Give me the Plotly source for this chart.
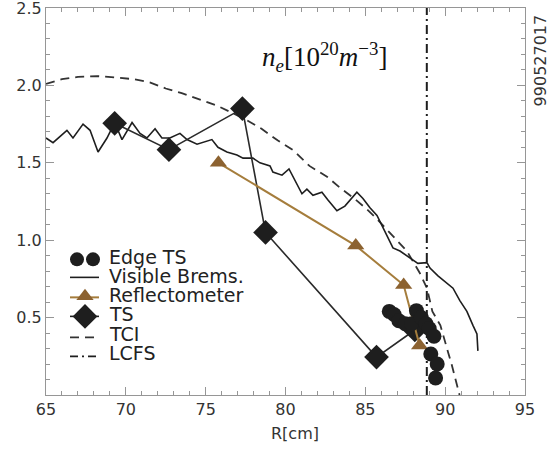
import plotly.graph_objects as go

# ---------------- data ----------------
brems_r = [65.0, 65.44, 66.31, 66.69, 67.32, 67.76, 68.26, 68.82, 69.3, 69.76, 70.39, 70.89,
           71.32, 71.83, 72.26, 72.76, 73.39, 73.83, 74.46, 75.39, 75.77, 76.33, 76.96, 77.34,
           77.96, 78.40, 79.03, 79.21, 79.78, 80.22, 81.03, 81.34, 81.72, 82.28, 82.66, 83.22,
           83.72, 84.47, 84.85, 85.29, 85.73, 86.23, 86.73, 87.17, 87.60, 87.98, 88.29, 88.86,
           89.05, 89.55, 90.11, 90.49, 90.92, 91.36, 91.74, 91.99, 92.05]
brems_ne = [1.66, 1.63, 1.71, 1.66, 1.75, 1.71, 1.57, 1.66, 1.76, 1.65, 1.76, 1.69,
            1.66, 1.72, 1.66, 1.66, 1.69, 1.65, 1.62, 1.65, 1.60, 1.57, 1.55, 1.53,
            1.53, 1.50, 1.48, 1.44, 1.42, 1.46, 1.30, 1.33, 1.29, 1.31, 1.26, 1.19,
            1.22, 1.31, 1.27, 1.21, 1.16, 1.06, 0.95, 0.93, 0.90, 0.87, 0.85, 0.855,
            0.82, 0.77, 0.72, 0.69, 0.61, 0.54, 0.45, 0.395, 0.285]

tci_r = [65.0, 66.0, 67.0, 68.2, 69.5, 70.5, 71.5, 72.5, 73.5, 74.6, 75.7, 76.5, 77.5, 78.5,
         79.5, 80.5, 81.5, 82.6, 83.4, 84.3, 85.1, 85.7, 86.35, 87.0, 87.6, 88.4, 88.86,
         89.2, 89.7, 90.2, 90.4, 90.9]
tci_ne = [2.01, 2.04, 2.055, 2.06, 2.05, 2.04, 2.02, 1.98, 1.95, 1.91, 1.87, 1.83, 1.78, 1.72,
          1.645, 1.58, 1.48, 1.41, 1.34, 1.27, 1.20, 1.14, 1.07, 1.00, 0.93, 0.79, 0.69,
          0.54, 0.45, 0.27, 0.20, 0.0]

ts_r = [69.3, 72.7, 77.3, 78.75, 85.7, 88.1]
ts_ne = [1.755, 1.585, 1.85, 1.05, 0.245, 0.42]

refl_r = [75.8, 84.4, 87.4, 88.4]
refl_ne = [1.50, 0.965, 0.71, 0.32]

edge_r = [86.5, 86.8, 87.1, 87.5, 87.9, 88.2, 88.5, 88.8, 89.0, 89.3, 89.1, 89.5, 89.4]
edge_ne = [0.54, 0.52, 0.48, 0.46, 0.46, 0.545, 0.50, 0.46, 0.43, 0.38, 0.265, 0.20, 0.11]

lcfs_r = 88.85

x_ticks = [65, 70, 75, 80, 85, 90, 95]
y_ticks = [0.5, 1.0, 1.5, 2.0, 2.5]
y_ticktext = ["0.5", "1.0", "1.5", "2.0", "2.5"]

legend_names = ["Edge TS", "Visible Brems.", "Reflectometer", "TS", "TCI", "LCFS"]

# ---------------- styles ----------------
BROWN_LINE = "rgb(165,125,60)"
BROWN_FILL = "rgb(140,98,48)"
DARK = "#1e1e1e"
AXC = "rgb(150,150,150)"
FONT = "DejaVu Sans"

fig = go.Figure()

fig.add_trace(go.Scatter(x=tci_r, y=tci_ne, mode="lines",
                         line=dict(color="#333333", width=1.8, dash="9px,6px"),
                         showlegend=False))
fig.add_trace(go.Scatter(x=brems_r, y=brems_ne, mode="lines",
                         line=dict(color=DARK, width=1.6), showlegend=False))
fig.add_trace(go.Scatter(x=[lcfs_r, lcfs_r], y=[0, 2.5], mode="lines",
                         line=dict(color=DARK, width=2, dash="9px,4px,2px,4px"),
                         showlegend=False))
fig.add_trace(go.Scatter(x=ts_r, y=ts_ne, mode="lines+markers",
                         line=dict(color="#2a2a2a", width=1.6),
                         marker=dict(symbol="diamond", size=19, color=DARK),
                         showlegend=False))
fig.add_trace(go.Scatter(x=refl_r, y=refl_ne, mode="lines+markers",
                         line=dict(color=BROWN_LINE, width=2),
                         marker=dict(symbol="triangle-up", size=15, color=BROWN_FILL),
                         showlegend=False))
fig.add_trace(go.Scatter(x=edge_r, y=edge_ne, mode="markers",
                         marker=dict(symbol="circle", size=15, color=DARK),
                         showlegend=False))

# ---------------- manual legend (overlay pixel axes) ----------------
row_y = [259, 277, 297, 316, 337, 356]
text_y = [257, 276, 295, 314, 334, 353]
lx0, lx1, lxm = 70, 99, 85
fig.add_trace(go.Scatter(x=[77, 93], y=[row_y[0]] * 2, mode="markers", xaxis="x2", yaxis="y2",
                         marker=dict(size=14, color=DARK), showlegend=False, hoverinfo="skip"))
fig.add_trace(go.Scatter(x=[lx0, lx1], y=[row_y[1]] * 2, mode="lines", xaxis="x2", yaxis="y2",
                         line=dict(color=DARK, width=1.6), showlegend=False, hoverinfo="skip"))
fig.add_trace(go.Scatter(x=[lx0, lx1], y=[row_y[2]] * 2, mode="lines", xaxis="x2", yaxis="y2",
                         line=dict(color=BROWN_LINE, width=2), showlegend=False, hoverinfo="skip"))
fig.add_trace(go.Scatter(x=[lxm], y=[row_y[2] - 1], mode="markers", xaxis="x2", yaxis="y2",
                         marker=dict(symbol="triangle-up", size=15, color=BROWN_FILL),
                         showlegend=False, hoverinfo="skip"))
fig.add_trace(go.Scatter(x=[lx0, lx1], y=[row_y[3]] * 2, mode="lines", xaxis="x2", yaxis="y2",
                         line=dict(color=DARK, width=1.6), showlegend=False, hoverinfo="skip"))
fig.add_trace(go.Scatter(x=[lxm], y=[row_y[3]], mode="markers", xaxis="x2", yaxis="y2",
                         marker=dict(symbol="diamond", size=19, color=DARK),
                         showlegend=False, hoverinfo="skip"))
fig.add_trace(go.Scatter(x=[lx0, lx1], y=[row_y[4]] * 2, mode="lines", xaxis="x2", yaxis="y2",
                         line=dict(color="#333333", width=1.6, dash="9px,6px"),
                         showlegend=False, hoverinfo="skip"))
fig.add_trace(go.Scatter(x=[lx0, lx1], y=[row_y[5]] * 2, mode="lines", xaxis="x2", yaxis="y2",
                         line=dict(color=DARK, width=1.6, dash="8px,4px,2px,4px"),
                         showlegend=False, hoverinfo="skip"))

annotations = []
for name, ty in zip(legend_names, text_y):
    annotations.append(dict(x=107, y=ty, xref="x2", yref="y2", text=name, showarrow=False,
                            xanchor="left", yanchor="middle",
                            font=dict(family=FONT, size=19, color="#222222")))

annotations.append(dict(x=324, y=57, xref="x2", yref="y2",
                        text="<i>n</i><sub><i>e</i></sub>[10<sup>20</sup><i>m</i><sup>−3</sup>]",
                        showarrow=False, xanchor="center", yanchor="middle",
                        font=dict(family="Liberation Serif", size=27, color="#111111")))
annotations.append(dict(x=(295 - 46) / 479, y=(394.6 - 433) / 387, xref="paper", yref="paper",
                        text="R[cm]", showarrow=False, xanchor="center", yanchor="middle",
                        font=dict(family=FONT, size=16, color="#333333")))
annotations.append(dict(x=(540 - 46) / 479, y=(394.6 - 60) / 387, xref="paper", yref="paper",
                        text="990527017", showarrow=False, textangle=-90,
                        xanchor="center", yanchor="middle",
                        font=dict(family=FONT, size=16, color="#333333")))

fig.update_layout(
    width=548, height=455,
    margin=dict(l=46, r=23, t=8, b=60, pad=0, autoexpand=False),
    paper_bgcolor="white", plot_bgcolor="white",
    showlegend=False,
    font=dict(family=FONT, size=16, color="#333333"),
    annotations=annotations,
    xaxis=dict(range=[65, 95], tickmode="array", tickvals=x_ticks, automargin=False,
               ticks="inside", ticklen=8, tickwidth=1, tickcolor=AXC,
               showline=True, linecolor=AXC, linewidth=1, mirror="ticks",
               showgrid=False, zeroline=False,
               tickfont=dict(family=FONT, size=16, color="#333333"),
               minor=dict(tickmode="linear", tick0=65, dtick=1, ticks="inside",
                          ticklen=4, tickcolor=AXC, showgrid=False)),
    yaxis=dict(range=[0, 2.5], tickmode="array", tickvals=y_ticks, ticktext=y_ticktext,
               automargin=False, ticklabeloverflow="allow",
               ticks="inside", ticklen=8, tickwidth=1, tickcolor=AXC,
               showline=True, linecolor=AXC, linewidth=1, mirror="ticks",
               showgrid=False, zeroline=False,
               tickfont=dict(family=FONT, size=16, color="#333333"),
               minor=dict(tickmode="linear", tick0=0, dtick=0.1, ticks="inside",
                          ticklen=4, tickcolor=AXC, showgrid=False)),
    xaxis2=dict(range=[46, 525], overlaying="x", visible=False, fixedrange=True),
    yaxis2=dict(range=[394.6, 7.7], overlaying="y", visible=False, fixedrange=True),
)

fig.write_html("out.html")
